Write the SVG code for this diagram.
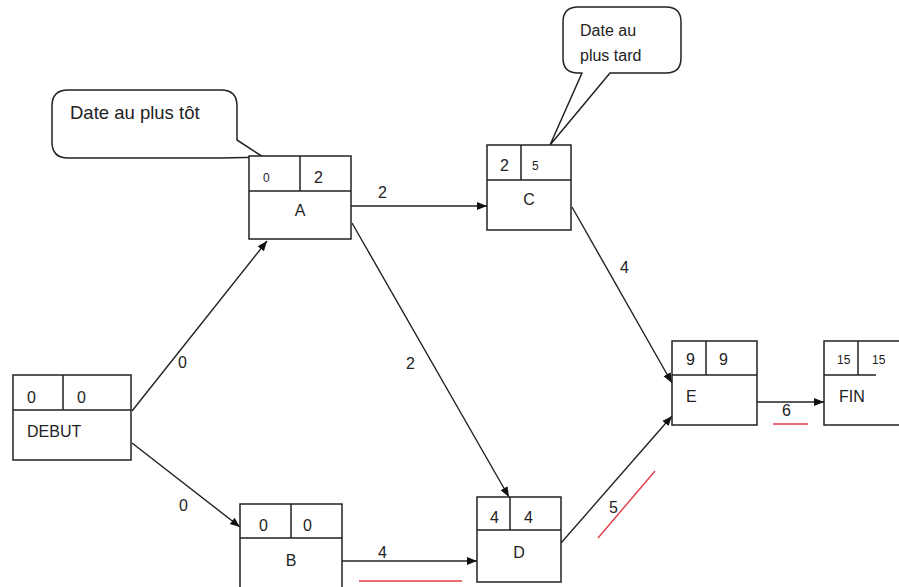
<svg xmlns="http://www.w3.org/2000/svg" width="899" height="587" viewBox="0 0 899 587">
  <style>
    .box { fill: #fff; stroke: #222; stroke-width: 1.5; }
    .div { stroke: #222; stroke-width: 1.5; fill: none; }
    .edge { stroke: #222; stroke-width: 1.4; fill: none; marker-end: url(#arrow); }
    .bubble { fill: #fff; stroke: #222; stroke-width: 1.5; stroke-linejoin: round; }
    .t { font-family: "Liberation Sans", Arial, sans-serif; font-size: 16px; fill: #222; }
    .s { font-size: 12px; }
    .big { font-size: 18.5px; }
    .mid { text-anchor: middle; }
    .red { stroke: #e23b45; stroke-width: 1.4; fill: none; }
  </style>
  <defs>
    <marker id="arrow" viewBox="0 0 10 10" refX="10" refY="5" markerWidth="10" markerHeight="10" markerUnits="userSpaceOnUse" orient="auto">
      <path d="M0,1 L10,5 L0,9 Z" fill="#111"/>
    </marker>
  </defs>

  <rect width="899" height="587" fill="#fff"/>

  <!-- callouts -->
  <g id="callout-tot">
    <path class="bubble" d="M68,90 H221 Q237,90 237,106 V140 L263,157 L222,158 H68 Q52,158 52,142 V106 Q52,90 68,90 Z"/>
    <text class="t big" x="70" y="119">Date au plus tôt</text>
  </g>
  <g id="callout-tard">
    <path class="bubble" d="M578,7 H666 Q681,7 681,22 V58 Q681,73 666,73 H610 L550,145 L582,73 H578 Q563,73 563,58 V22 Q563,7 578,7 Z"/>
    <text class="t" x="580" y="36">Date au</text>
    <text class="t" x="580" y="61">plus tard</text>
  </g>

  <!-- connectors -->
  <g id="connectors">
    <line class="edge" x1="132" y1="411" x2="267" y2="241"/>
    <line class="edge" x1="132" y1="443" x2="240" y2="527"/>
    <line class="edge" x1="351" y1="206" x2="487" y2="206"/>
    <line class="edge" x1="352" y1="223" x2="509" y2="497"/>
    <line class="edge" x1="342" y1="561" x2="477" y2="561"/>
    <line class="edge" x1="572" y1="207" x2="672" y2="383"/>
    <line class="edge" x1="561" y1="543" x2="672" y2="416"/>
    <line class="edge" x1="757" y1="402" x2="824" y2="402"/>
    <text class="t" x="178" y="368">0</text>
    <text class="t" x="179" y="511">0</text>
    <text class="t" x="378" y="198">2</text>
    <text class="t" x="406" y="369">2</text>
    <text class="t" x="378" y="558">4</text>
    <text class="t" x="620" y="273">4</text>
    <text class="t" x="609" y="513">5</text>
    <text class="t" x="782" y="416">6</text>
    <line class="red" x1="359" y1="581" x2="462" y2="581"/>
    <line class="red" x1="598" y1="538" x2="655" y2="471"/>
    <line class="red" x1="773" y1="424" x2="808" y2="424"/>
  </g>

  <!-- nodes -->
  <g id="node-debut">
    <rect class="box" x="13" y="375" width="118" height="85"/>
    <path class="div" d="M13,410 H131 M63,375 V410"/>
    <text class="t" x="27" y="403">0</text>
    <text class="t" x="77" y="403">0</text>
    <text class="t" x="27" y="437">DEBUT</text>
  </g>
  <g id="node-a">
    <rect class="box" x="249" y="156" width="102" height="83"/>
    <path class="div" d="M249,191 H351 M300,156 V191"/>
    <text class="t s" x="263" y="182">0</text>
    <text class="t" x="314" y="183">2</text>
    <text class="t mid" x="300" y="216">A</text>
  </g>
  <g id="node-c">
    <rect class="box" x="487" y="145" width="84" height="85"/>
    <path class="div" d="M487,180 H571 M521,145 V180"/>
    <text class="t" x="500" y="171">2</text>
    <text class="t s" x="532" y="170">5</text>
    <text class="t mid" x="529" y="205">C</text>
  </g>
  <g id="node-b">
    <rect class="box" x="240" y="504" width="102" height="90"/>
    <path class="div" d="M240,538 H342 M291,504 V538"/>
    <text class="t" x="259" y="531">0</text>
    <text class="t" x="303" y="531">0</text>
    <text class="t mid" x="291" y="566">B</text>
  </g>
  <g id="node-d">
    <rect class="box" x="477" y="497" width="84" height="85"/>
    <path class="div" d="M477,530 H561 M510,497 V530"/>
    <text class="t" x="490" y="523">4</text>
    <text class="t" x="524" y="523">4</text>
    <text class="t mid" x="519" y="558">D</text>
  </g>
  <g id="node-e">
    <rect class="box" x="672" y="341" width="85" height="84"/>
    <path class="div" d="M672,375 H757 M706,341 V375"/>
    <text class="t" x="686" y="365">9</text>
    <text class="t" x="719" y="365">9</text>
    <text class="t" x="686" y="402">E</text>
  </g>
  <g id="node-fin">
    <path class="box" d="M905,341 H824 V425 H905"/>
    <path class="div" d="M824,375 H876 M858,341 V375"/>
    <text class="t s" x="837" y="364">15</text>
    <text class="t s" x="872" y="364">15</text>
    <text class="t" x="839" y="402">FIN</text>
  </g>
</svg>
